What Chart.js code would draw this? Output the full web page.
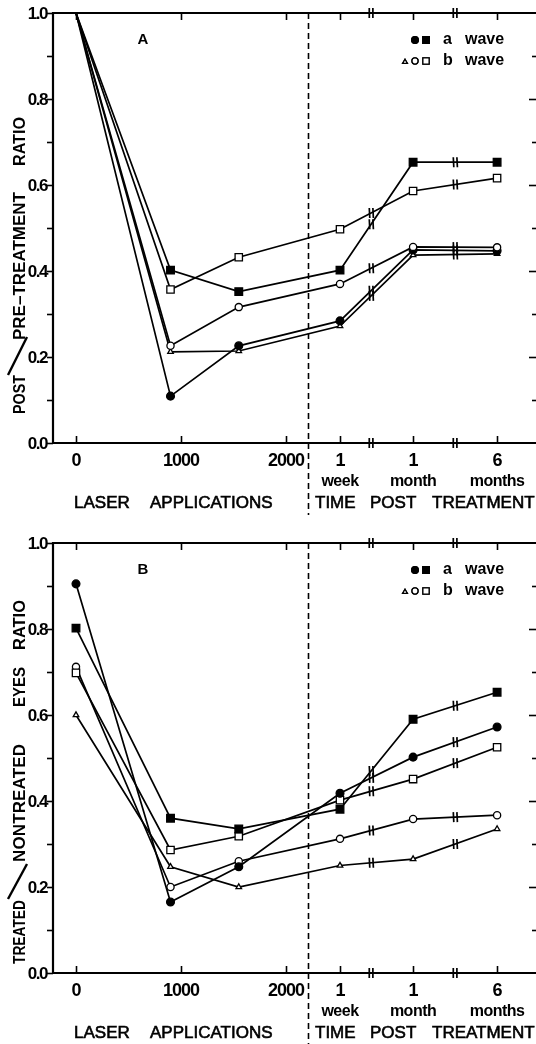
<!DOCTYPE html>
<html><head><meta charset="utf-8">
<script src="https://cdn.jsdelivr.net/npm/chart.js@4"></script>
<style>
html,body{margin:0;padding:0;background:#fff;overflow:hidden;width:536px;height:1044px;position:relative}
.wrap{position:absolute;left:0;width:545px}
#wa{top:0;height:530px}
#wb{top:530px;height:514px}
canvas{display:block}
</style></head><body>
<div class="wrap" id="wa"><canvas id="ca" width="545" height="530"></canvas></div>
<div class="wrap" id="wb"><canvas id="cb" width="545" height="514"></canvas></div>
<script>
// ---------- DATA ----------
const laserApplications = [0, 900, 1550];          // x of the laser-application points
const laserTicks = [0, 1000, 2000];                // tick labels of the laser axis
const timeLabels = ['1 week', '1 month', '6 months'];
const timeAxisValues = [2514, 3210, 4010];          // where the time points sit on the shared x axis
const breakValues = [2810, 3610];                   // axis breaks
const dividerValue = 2210;                          // dashed divider
const yTickValues = [0.0, 0.2, 0.4, 0.6, 0.8, 1.0];

// Panel A : post / pre-treatment ratio
const A_aSquare   = [1.0, 0.402, 0.352, 0.402, 0.653, 0.653];
const A_bSquare   = [1.0, 0.357, 0.432, 0.497, 0.586, 0.616];
const A_bCircle   = [1.0, 0.226, 0.316, 0.370, 0.456, 0.455];
const A_aCircle   = [1.0, 0.109, 0.226, 0.284, 0.449, 0.447];
const A_bTriangle = [1.0, 0.212, 0.214, 0.272, 0.437, 0.440];

// Panel B : treated / nontreated eyes ratio
const B_aSquare   = [0.802, 0.360, 0.335, 0.381, 0.590, 0.653];
const B_aCircle   = [0.905, 0.165, 0.247, 0.418, 0.502, 0.572];
const B_bSquare   = [0.698, 0.286, 0.318, 0.402, 0.451, 0.525];
const B_bCircle   = [0.712, 0.200, 0.260, 0.312, 0.358, 0.367];
const B_bTriangle = [0.600, 0.247, 0.200, 0.250, 0.265, 0.335];

// ---------- RENDERING ----------
const FF = '"Liberation Sans", Arial, Helvetica, sans-serif';
const xAll = laserApplications.concat(timeAxisValues);

const STYLES = {
  aCircle:   {pointStyle: 'circle',   pointRadius: 3.9, pointBackgroundColor: '#000'},
  aSquare:   {pointStyle: 'rect',     pointRadius: 5.4, pointBackgroundColor: '#000'},
  bCircle:   {pointStyle: 'circle',   pointRadius: 3.6, pointBackgroundColor: '#fff'},
  bSquare:   {pointStyle: 'rect',     pointRadius: 5.2, pointBackgroundColor: '#fff'},
  bTriangle: {pointStyle: 'triangle', pointRadius: 3.2, pointBackgroundColor: '#fff'}
};

function makeDataset(kind, values, hideFirst) {
  const st = STYLES[kind];
  return Object.assign({
    data: values.map((v, i) => ({x: xAll[i], y: v})),
    borderColor: '#000', borderWidth: 1.7,
    pointBorderColor: '#000', pointBorderWidth: 1.3,
    tension: 0, clip: false
  }, st, hideFirst ? {pointRadius: values.map((v, i) => i === 0 ? 0 : st.pointRadius)} : {});
}

function drawFit(ctx, text, cx, yStart, yEnd, font) {
  ctx.save();
  ctx.font = font;
  ctx.letterSpacing = '0px';
  const w = ctx.measureText(text).width;
  const L = yStart - yEnd;
  let sx = 1;
  if (L >= w) {
    ctx.letterSpacing = ((L - w) / Math.max(1, text.length - 1)).toFixed(2) + 'px';
  } else {
    sx = L / w;
  }
  ctx.translate(cx, yStart);
  ctx.rotate(-Math.PI / 2);
  ctx.scale(sx, 1);
  ctx.textAlign = 'left'; ctx.textBaseline = 'middle';
  ctx.fillText(text, 0, 1);
  ctx.restore();
}

function drawMarker(ctx, kind, x, y) {
  const st = STYLES[kind];
  ctx.save();
  ctx.lineWidth = 1.3; ctx.strokeStyle = '#000'; ctx.fillStyle = st.pointBackgroundColor;
  Chart.helpers.drawPoint(ctx, {pointStyle: st.pointStyle, radius: st.pointRadius * 0.85, borderWidth: 1.3, rotation: 0}, x, y);
  ctx.fill(); ctx.stroke();
  ctx.restore();
}

const paperPlugin = {
  id: 'paper',
  beforeDatasetsDraw(chart, args, o) {
    const {ctx, chartArea: ca, scales: {x, y}} = chart;
    ctx.save();
    ctx.strokeStyle = '#000'; ctx.fillStyle = '#000';
    // frame
    ctx.lineWidth = 2.2;
    ctx.beginPath();
    ctx.moveTo(ca.left, ca.bottom + 1); ctx.lineTo(ca.left, ca.top); ctx.lineTo(ca.right, ca.top);
    ctx.moveTo(ca.left - 1, ca.bottom); ctx.lineTo(ca.right, ca.bottom);
    ctx.stroke();
    // y ticks (left outward, right inward)
    ctx.lineWidth = 1.6;
    for (let i = 0; i <= 10; i++) {
      const py = Math.round(y.getPixelForValue(i / 10)) + 0.5;
      ctx.beginPath(); ctx.moveTo(ca.left - 6, py); ctx.lineTo(ca.left, py); ctx.stroke();
      const len = i % 2 === 0 ? 7 : 4;
      if (i > 0 && i < 10) { ctx.beginPath(); ctx.moveTo(ca.right - len - 1, py); ctx.lineTo(ca.right, py); ctx.stroke(); }
    }
    // y tick labels
    ctx.font = 'bold 17px ' + FF; ctx.letterSpacing = '-1.5px';
    ctx.textAlign = 'right'; ctx.textBaseline = 'middle';
    yTickValues.forEach(v => ctx.fillText(v.toFixed(1), ca.left - 6, y.getPixelForValue(v) + 1));
    ctx.letterSpacing = '0px';
    // x ticks top & bottom (inward)
    const xt = laserTicks.concat(timeAxisValues);
    ctx.lineWidth = 1.6;
    xt.forEach(v => {
      const px = Math.round(x.getPixelForValue(v)) + 0.5;
      ctx.beginPath(); ctx.moveTo(px, ca.bottom); ctx.lineTo(px, ca.bottom - 7); ctx.stroke();
      ctx.beginPath(); ctx.moveTo(px, ca.top); ctx.lineTo(px, ca.top + 7); ctx.stroke();
    });
    // axis breaks
    breakValues.forEach(v => {
      const px = x.getPixelForValue(v);
      [ca.top, ca.bottom].forEach(ay => {
        ctx.lineWidth = 1.7;
        ctx.beginPath();
        ctx.moveTo(px - 1.8, ay - 5); ctx.lineTo(px - 1.8, ay + 5);
        ctx.moveTo(px + 1.8, ay - 5); ctx.lineTo(px + 1.8, ay + 5);
        ctx.stroke();
      });
    });
    // dashed divider
    const dx = Math.round(x.getPixelForValue(dividerValue)) + 0.5;
    ctx.lineWidth = 1.6; ctx.setLineDash([6, 4]);
    ctx.beginPath(); ctx.moveTo(dx, ca.top); ctx.lineTo(dx, chart.height - (o.dashEnd || 0)); ctx.stroke();
    ctx.setLineDash([]);
    // x tick labels
    ctx.textAlign = 'center'; ctx.textBaseline = 'middle';
    ctx.font = 'bold 18px ' + FF; ctx.letterSpacing = '-1px';
    laserTicks.forEach(v => ctx.fillText(String(v), x.getPixelForValue(v), ca.bottom + 18));
    timeLabels.forEach((t, i) => {
      const [num, unit] = t.split(' ');
      const px = x.getPixelForValue(timeAxisValues[i]);
      ctx.font = 'bold 18px ' + FF; ctx.letterSpacing = '-1px';
      ctx.fillText(num, px, ca.bottom + 18);
      ctx.font = 'bold 16px ' + FF; ctx.letterSpacing = '-0.5px';
      ctx.fillText(unit, px, ca.bottom + 39);
    });
    // axis titles (medium weight)
    ctx.letterSpacing = '0px';
    ctx.font = '17px ' + FF; ctx.textAlign = 'left'; ctx.lineWidth = 0.6;
    const ty = ca.bottom + 60;
    [['LASER', 74], ['APPLICATIONS', 150], ['TIME', 315], ['POST', 370], ['TREATMENT', 432]]
      .forEach(([t, px]) => { ctx.fillText(t, px, ty); ctx.strokeText(t, px, ty); });
    ctx.restore();
  },
  afterDatasetsDraw(chart, args, o) {
    const {ctx, scales: {x}} = chart;
    ctx.save();
    ctx.strokeStyle = '#000'; ctx.fillStyle = '#000';
    // break marks on the lines
    chart.data.datasets.forEach((ds, di) => {
      const pts = chart.getDatasetMeta(di).data;
      breakValues.forEach(bv => {
        const bx = x.getPixelForValue(bv);
        for (let i = 0; i < pts.length - 1; i++) {
          if (pts[i].x <= bx && pts[i + 1].x >= bx) {
            const t = (bx - pts[i].x) / (pts[i + 1].x - pts[i].x);
            const by = pts[i].y + t * (pts[i + 1].y - pts[i].y);
            ctx.lineWidth = 1.7;
            ctx.beginPath();
            ctx.moveTo(bx - 1.8, by - 5); ctx.lineTo(bx - 1.3, by + 5);
            ctx.moveTo(bx + 1.8, by - 5); ctx.lineTo(bx + 2.3, by + 5);
            ctx.stroke();
          }
        }
      });
    });
    // panel letter
    ctx.font = 'bold 15px ' + FF; ctx.textAlign = 'center'; ctx.textBaseline = 'middle';
    ctx.fillText(o.letter, 143, 40);
    // legend
    ctx.font = 'bold 16px ' + FF; ctx.textAlign = 'left';
    drawMarker(ctx, 'aCircle', 415, 40); drawMarker(ctx, 'aSquare', 426, 40);
    ctx.fillText('a', 443, 40); ctx.fillText('wave', 465, 40);
    drawMarker(ctx, 'bTriangle', 405, 62); drawMarker(ctx, 'bCircle', 415, 61); drawMarker(ctx, 'bSquare', 426, 61);
    ctx.fillText('b', 443, 61); ctx.fillText('wave', 465, 61);
    // y title
    const f = 'bold 17px ' + FF;
    o.title.forEach(p => {
      if (p.slash) {
        ctx.lineWidth = 2.4; ctx.beginPath();
        ctx.moveTo(p.slash[0], p.slash[1]); ctx.lineTo(p.slash[2], p.slash[3]); ctx.stroke();
      } else drawFit(ctx, p.t, 19, p.from, p.to, f);
    });
    ctx.restore();
  }
};

function makeChart(id, height, datasets, opts) {
  return new Chart(document.getElementById(id), {
    type: 'line',
    data: {datasets},
    options: {
      responsive: false, animation: false, devicePixelRatio: 1,
      events: [],
      layout: {padding: {left: 53, top: 13, right: 8, bottom: height - 443}},
      scales: {
        x: {type: 'linear', min: -219, max: 4390, display: false},
        y: {type: 'linear', min: 0, max: 1, display: false}
      },
      plugins: {legend: {display: false}, tooltip: {enabled: false}, paper: opts}
    },
    plugins: [paperPlugin]
  });
}

makeChart('ca', 530, [
  makeDataset('aSquare', A_aSquare, true),
  makeDataset('bSquare', A_bSquare, true),
  makeDataset('bCircle', A_bCircle, true),
  makeDataset('aCircle', A_aCircle, true),
  makeDataset('bTriangle', A_bTriangle, true)
], {letter: 'A', dashEnd: 15, title: [
  {t: 'POST', from: 414, to: 375},
  {slash: [8, 375, 27, 337]},
  {t: 'PRE\u2013TREATMENT', from: 340, to: 192},
  {t: 'RATIO', from: 166, to: 117}
]});

makeChart('cb', 514, [
  makeDataset('aSquare', B_aSquare),
  makeDataset('aCircle', B_aCircle),
  makeDataset('bSquare', B_bSquare),
  makeDataset('bCircle', B_bCircle),
  makeDataset('bTriangle', B_bTriangle)
], {letter: 'B', dashEnd: 0, title: [
  {t: 'TREATED', from: 434, to: 370},
  {slash: [8, 369, 27, 334]},
  {t: 'NONTREATED', from: 332, to: 214},
  {t: 'EYES', from: 177, to: 137},
  {t: 'RATIO', from: 120, to: 70}
]});
</script>
</body></html>
